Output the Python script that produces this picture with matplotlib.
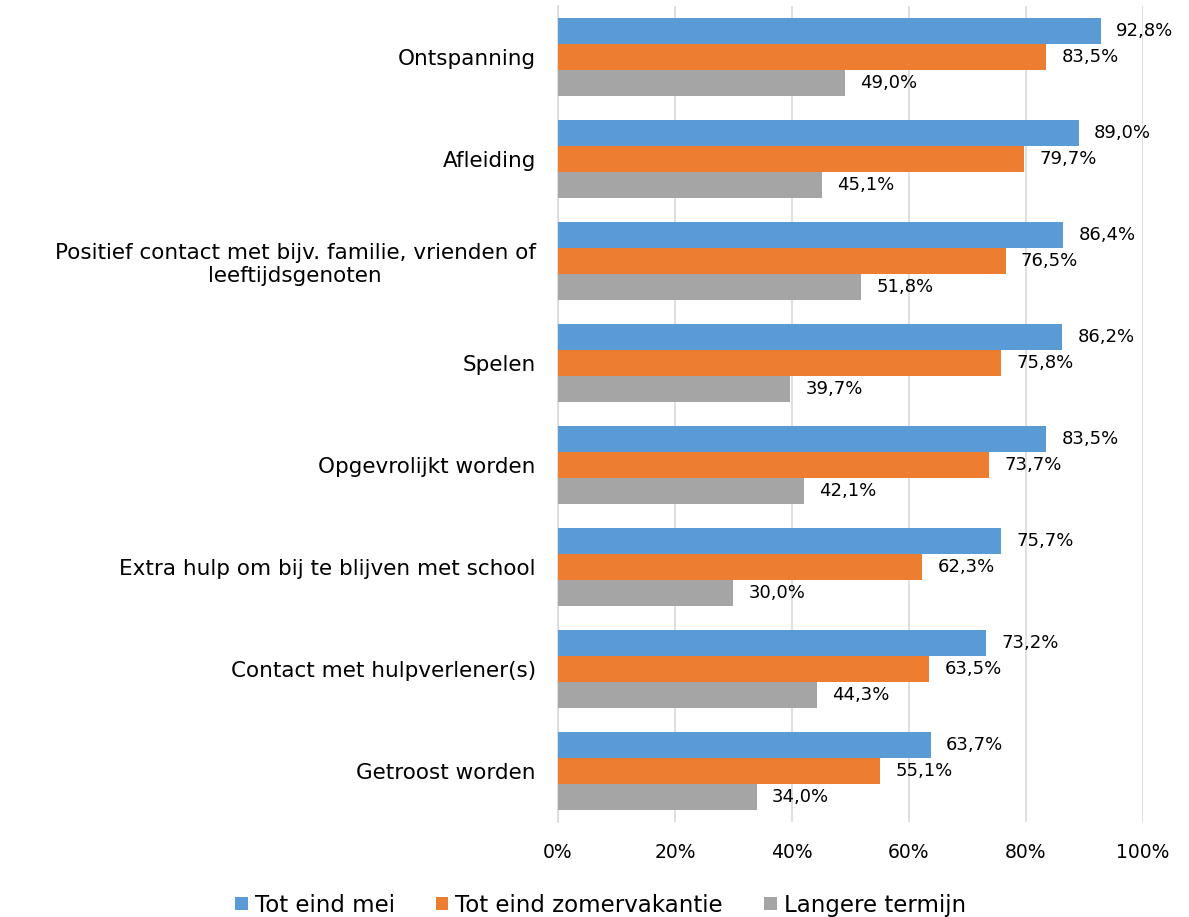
import matplotlib.pyplot as plt
import numpy as np

plt.rcParams['font.family'] = ['DejaVu Sans']

categorieen = ["Ontspanning", "Afleiding",
               "Positief contact met bijv. familie, vrienden of\nleeftijdsgenoten",
               "Spelen", "Opgevrolijkt worden",
               "Extra hulp om bij te blijven met school",
               "Contact met hulpverlener(s)", "Getroost worden"]
tot_eind_mei = [92.8, 89.0, 86.4, 86.2, 83.5, 75.7, 73.2, 63.7]
tot_eind_zomer = [83.5, 79.7, 76.5, 75.8, 73.7, 62.3, 63.5, 55.1]
langere_termijn = [49.0, 45.1, 51.8, 39.7, 42.1, 30.0, 44.3, 34.0]
reeksen = ["Tot eind mei", "Tot eind zomervakantie", "Langere termijn"]
kleuren = ["#5B9BD5", "#ED7D31", "#A5A5A5"]

fig = plt.figure(figsize=(11.89, 9.17), dpi=100)
ax = fig.add_axes([0.4693, 0.1036, 0.4920, 0.8900])

y = np.arange(len(categorieen))
h = 0.255
for i, (vals, naam, kleur) in enumerate(zip([tot_eind_mei, tot_eind_zomer, langere_termijn], reeksen, kleuren)):
    pos = y + (i - 1) * h
    bars = ax.barh(pos, vals, height=h, color=kleur, label=naam, zorder=3)
    for b, v in zip(bars, vals):
        ax.annotate(f"{v:.1f}%".replace(".", ","), (v, b.get_y() + h / 2),
                    xytext=(11, 0), textcoords="offset points",
                    va="center", ha="left", fontsize=13)

ax.set_ylim(len(categorieen) - 0.5, -0.5)
ax.set_xlim(0, 100)
ax.set_xticks(range(0, 101, 20))
ax.set_xticklabels([f"{t}%" for t in range(0, 101, 20)], fontsize=13.5)
ax.set_yticks(y)
ax.set_yticklabels(categorieen, fontsize=15.5, ha="right", multialignment="center")
ax.tick_params(axis="y", length=0, pad=16)
ax.tick_params(axis="x", length=0, pad=15)
ax.grid(axis="x", color="#D9D9D9", linewidth=1.2, zorder=0)
for s in ["top", "right", "bottom"]:
    ax.spines[s].set_visible(False)
ax.spines["left"].set_color("#D9D9D9")
ax.spines["left"].set_linewidth(1.2)

ax.legend(loc="center", bbox_to_anchor=(0.505, 0.013), bbox_transform=fig.transFigure,
          ncol=3, frameon=False, fontsize=16.5, handlelength=0.55, handleheight=0.55,
          handletextpad=0.3, columnspacing=1.8, borderaxespad=0.0)

fig.savefig("out.png", dpi=100)
